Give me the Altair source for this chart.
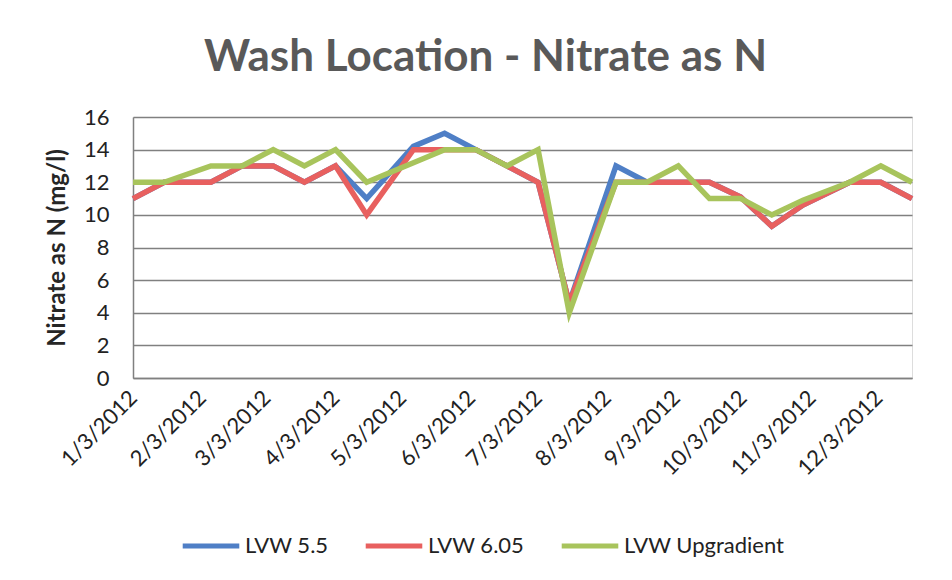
import altair as alt
import pandas as pd

# Sample dates (biweekly samples, 2012)
dates = ["2012-01-03", "2012-01-17", "2012-02-07", "2012-02-21", "2012-03-06",
         "2012-03-20", "2012-04-03", "2012-04-17", "2012-05-08", "2012-05-22",
         "2012-06-05", "2012-06-19", "2012-07-03", "2012-07-17", "2012-08-07",
         "2012-08-21", "2012-09-04", "2012-09-18", "2012-10-02", "2012-10-16",
         "2012-10-30", "2012-11-20", "2012-12-04", "2012-12-18"]

lvw_55 = [11, 12, 12, 13, 13, 12, 13, 11, 14.2, 15, 14, 13, 12, 4.6, 13, 12,
          12, 12, 11.1, 9.3, 10.6, 12, 12, 11]
lvw_605 = [11, 12, 12, 13, 13, 12, 13, 10, 14, 14, 14, 13, 12, 4.6, 12, 12,
           12, 12, 11.1, 9.3, 10.6, 12, 12, 11]
lvw_up = [12, 12, 13, 13, 14, 13, 14, 12, 13.2, 14, 14, 13, 14, 4, 12, 12,
          13, 11, 11, 10, 10.9, 12, 13, 12]

series_names = ["LVW 5.5", "LVW 6.05", "LVW Upgradient"]
series_colors = ["#4F7FC6", "#E8605F", "#A8C45C"]
y_ticks = [0, 2, 4, 6, 8, 10, 12, 14, 16]
tick_months = list(range(1, 13))

rows = []
for name, vals in zip(series_names, [lvw_55, lvw_605, lvw_up]):
    for d, v in zip(dates, vals):
        rows.append({"Date": d, "Value": v, "Series": name})
df = pd.DataFrame(rows)

FONT = "Lato"

chart = alt.Chart(df).mark_line(strokeWidth=5.5, strokeJoin="miter").encode(
    x=alt.X(
        "Date:T",
        title=None,
        scale=alt.Scale(
            type="utc",
            domain=[alt.DateTime(year=2012, month=1, date=3, utc=True),
                    alt.DateTime(year=2012, month=12, date=18, utc=True)],
            nice=False,
        ),
        axis=alt.Axis(
            values=[alt.DateTime(year=2012, month=m, date=3, utc=True) for m in tick_months],
            labelExpr="utcFormat(datum.value, '%-m/%-d/%Y')",
            labelAngle=-45,
            labelAlign="right",
            labelBaseline="middle",
            labelFontSize=22,
            labelFont=FONT,
            labelColor="#222222",
            labelPadding=16,
            ticks=False,
            grid=False,
            domainColor="#808080",
            domainWidth=1.5,
            labelOverlap=False,
        ),
    ),
    y=alt.Y(
        "Value:Q",
        title="Nitrate as N (mg/l)",
        scale=alt.Scale(domain=[0, 16], nice=False),
        axis=alt.Axis(
            values=y_ticks,
            labelFontSize=22,
            labelFont=FONT,
            labelColor="#222222",
            labelPadding=24,
            ticks=False,
            gridColor="#808080",
            gridWidth=1.5,
            domainColor="#808080",
            domainWidth=1.5,
            titleFont=FONT,
            titleFontSize=24,
            titleFontWeight="bold",
            titleColor="#262626",
            titlePadding=14,
        ),
    ),
    color=alt.Color(
        "Series:N",
        scale=alt.Scale(domain=series_names, range=series_colors),
        legend=alt.Legend(
            title=None,
            orient="none",
            direction="horizontal",
            legendX=47,
            legendY=398,
            symbolType="stroke",
            symbolSize=3200,
            symbolStrokeWidth=5,
            labelFont=FONT,
            labelFontSize=22,
            labelColor="#222222",
            labelLimit=400,
            columnPadding=26,
            labelOffset=3,
        ),
    ),
).properties(
    width=779,
    height=261,
    title=alt.Title(
        "Wash Location - Nitrate as N",
        font=FONT,
        fontSize=44,
        fontWeight="bold",
        color="#595959",
        anchor="middle",
        dx=-37,
        offset=26,
    ),
    autosize=alt.AutoSizeParams(type="none"),
    padding={"left": 125, "top": 109, "right": 32, "bottom": 194},
).configure_view(stroke=None).configure(background="white")

chart.save("out.html", embed_options={"renderer": "svg", "actions": False})
